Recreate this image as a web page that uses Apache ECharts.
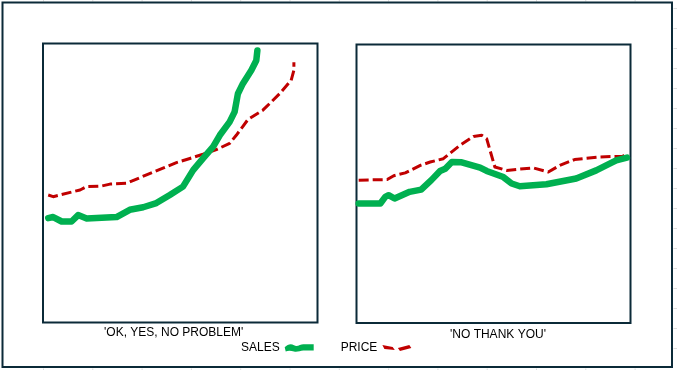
<!DOCTYPE html>
<html>
<head>
<meta charset="utf-8">
<script src="https://cdn.jsdelivr.net/npm/echarts@6/dist/echarts.min.js"></script>
<style>html,body{margin:0;padding:0;background:#fff}#c{width:677px;height:370px}</style>
</head>
<body>
<div id="c"></div>
<script>
// Panel titles
var panelLabels = ["'OK, YES, NO PROBLEM'", "'NO THANK YOU'"];
var seriesNames = ['SALES', 'PRICE'];

// Left panel: SALES (x, y) pairs on 0..100 scales
var leftSalesX = [1.9, 3.7, 6.8, 10.4, 12.8, 15.9, 26.8, 31.6, 36.5, 41.3, 46.2, 51.0, 54.7, 58.3, 62.0, 64.4, 68.0, 69.8, 71.0, 72.8, 75.9, 77.7, 78.1];
var leftSalesY = [37.4, 37.8, 36.2, 36.2, 38.5, 37.3, 37.8, 40.4, 41.3, 42.8, 45.7, 48.7, 54.6, 58.8, 63.0, 67.1, 71.9, 75.5, 82.0, 85.6, 90.4, 93.9, 97.5];
// Left panel: PRICE
var leftPriceX = [1.9, 3.7, 13.5, 15.9, 21.3, 24.4, 30.4, 37.7, 43.7, 48.6, 53.5, 58.3, 63.2, 68.0, 70.4, 74.7, 80.1, 86.2, 90.4, 91.4, 91.4];
var leftPriceY = [45.7, 45.1, 47.5, 48.7, 48.9, 49.6, 49.9, 52.9, 55.3, 57.3, 58.8, 60.3, 62.0, 64.2, 67.1, 72.8, 76.1, 82.0, 86.8, 90.4, 93.3];
// Right panel: SALES
var rightSalesX = [0.8, 8.7, 10.5, 11.7, 13.9, 19.4, 23.6, 27.3, 30.5, 32.4, 34.8, 38.4, 45.1, 47.5, 53.6, 56.6, 59.6, 69.3, 80.2, 87.5, 92.4, 94.8, 98.7];
var rightSalesY = [42.9, 42.9, 45.3, 45.9, 44.7, 47.1, 47.9, 51.3, 54.6, 55.4, 57.8, 57.7, 55.8, 54.6, 52.4, 50.1, 49.1, 49.8, 51.9, 54.8, 57.2, 58.4, 59.4];
// Right panel: PRICE
var rightPriceX = [0.8, 11.2, 13.6, 17.8, 23.3, 26.9, 31.7, 37.8, 42.7, 45.7, 47.5, 50.5, 54.8, 64.5, 70.0, 74.2, 79.6, 88.7, 97.2, 98.7];
var rightPriceY = [51.3, 51.5, 52.9, 53.9, 56.6, 57.8, 59.0, 63.8, 67.0, 67.4, 66.2, 56.0, 54.8, 55.7, 54.2, 56.6, 58.7, 59.6, 59.9, 60.8];

function pairs(xs, ys) { return xs.map(function (x, i) { return [x, ys[i]]; }); }

var GREEN = '#00b050', RED = '#c00000', DARK = '#0b2a38';

function axisBase(idx) {
  return { type: 'value', gridIndex: idx, min: 0, max: 100, show: false };
}

var salesStyle = { color: GREEN, width: 6.5, cap: 'round', join: 'round' };
var priceStyle = { color: RED, width: 3, type: [10, 4], join: 'round' };

// faint sheet gridlines outside the chart frame
var deco = [];
for (var k = 0; k < 13; k++) {
  var gx = 43.5 + k * 49.3;
  deco.push({ type: 'line', shape: { x1: gx, y1: 0, x2: gx, y2: 1.5 }, style: { stroke: '#dcdcdc', lineWidth: 1 }, silent: true });
  deco.push({ type: 'line', shape: { x1: gx, y1: 368.5, x2: gx, y2: 370 }, style: { stroke: '#dcdcdc', lineWidth: 1 }, silent: true });
}
for (var j = 0; j < 18; j++) {
  var gy = 8.5 + j * 20;
  deco.push({ type: 'line', shape: { x1: 673.5, y1: gy, x2: 677, y2: gy }, style: { stroke: '#dcdcdc', lineWidth: 1 }, silent: true });
}

var chart = echarts.init(document.getElementById('c'), null, { renderer: 'canvas' });
chart.setOption({
  animation: false,
  backgroundColor: '#ffffff',
  grid: [
    { left: 43, top: 43.5, width: 274.5, height: 279, show: true, borderColor: DARK, borderWidth: 2, backgroundColor: 'transparent' },
    { left: 356.5, top: 44.5, width: 274, height: 278.5, show: true, borderColor: DARK, borderWidth: 2, backgroundColor: 'transparent' }
  ],
  xAxis: [axisBase(0), axisBase(1)],
  yAxis: [axisBase(0), axisBase(1)],
  legend: {
    data: [
      { name: seriesNames[0], icon: 'path://M0,6 C3,3 6,2 9,4 C12,6 15,3 18,3 L28,3 L28,9 L18,9 C15,9 12,11 9,10 C6,9 3,9 1,10 Z' },
      { name: seriesNames[1], icon: 'path://M0,3 L10,5 L12,8 L2,7 Z M15,6 L26,3 L28,6 L17,9 Z' }
    ],
    align: 'right',
    left: 236,
    top: 337,
    itemWidth: 29,
    itemHeight: 9,
    itemGap: 27,
    textStyle: { fontFamily: 'Liberation Sans', fontSize: 12, color: '#000' },
    selectedMode: false
  },
  graphic: deco.concat([
    { type: 'rect', shape: { x: 2.5, y: 2.5, width: 669.5, height: 364.5 }, style: { fill: 'none', stroke: DARK, lineWidth: 2 }, silent: true, z: 10 },
    { type: 'text', left: 104, top: 327, style: { text: panelLabels[0], font: '12px "Liberation Sans"', fill: '#000' } },
    { type: 'text', left: 450, top: 329, style: { text: panelLabels[1], font: '12px "Liberation Sans"', fill: '#000' } }
  ]),
  series: [
    { name: seriesNames[1], type: 'line', xAxisIndex: 0, yAxisIndex: 0, data: pairs(leftPriceX, leftPriceY), showSymbol: false, lineStyle: priceStyle, itemStyle: { color: RED }, z: 2 },
    { name: seriesNames[0], type: 'line', xAxisIndex: 0, yAxisIndex: 0, data: pairs(leftSalesX, leftSalesY), showSymbol: false, lineStyle: salesStyle, itemStyle: { color: GREEN }, z: 3 },
    { name: seriesNames[1], type: 'line', xAxisIndex: 1, yAxisIndex: 1, data: pairs(rightPriceX, rightPriceY), showSymbol: false, lineStyle: priceStyle, itemStyle: { color: RED }, z: 2 },
    { name: seriesNames[0], type: 'line', xAxisIndex: 1, yAxisIndex: 1, data: pairs(rightSalesX, rightSalesY), showSymbol: false, lineStyle: salesStyle, itemStyle: { color: GREEN }, z: 3 }
  ]
});
</script>
</body>
</html>
